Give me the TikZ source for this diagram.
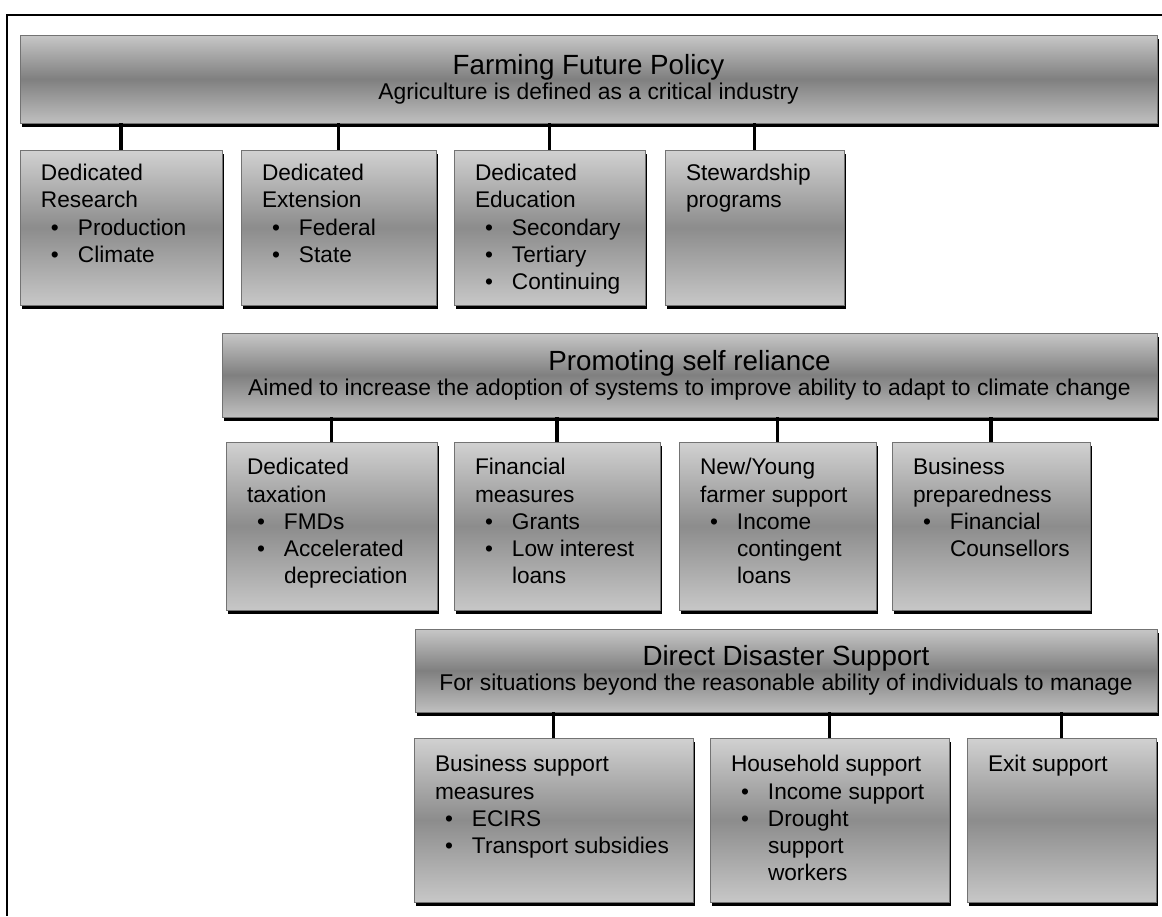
\documentclass[tikz,border=0pt]{standalone}
\usepackage{fontspec}
\setmainfont{Liberation Sans}
\usepackage{tikz}
\usetikzlibrary{positioning, shadows}

\newcommand{\bul}[1]{\makebox[0.74cm][l]{\hspace{0.2cm}\textbullet}#1}
\newcommand{\cnt}[1]{\hspace*{0.74cm}#1}
\newcommand{\headfont}{\fontsize{15.8pt}{14.2pt}\selectfont}

\begin{document}
\begin{tikzpicture}[
    banner/.style={draw=black!55, top color=black!22, bottom color=black!25, middle color=black!50,
      drop shadow={shadow xshift=1pt, shadow yshift=-2pt, fill=black, opacity=1},
      inner sep=0, align=center, font=\fontsize{13pt}{14.2pt}\selectfont},
    box/.style={draw=black!55, top color=black!18, bottom color=black!22, middle color=black!45,
      drop shadow={shadow xshift=1pt, shadow yshift=-2pt, fill=black, opacity=1},
      inner sep=0},
    boxtext/.style={inner sep=0, align=left, font=\fontsize{12.9pt}{15.4pt}\selectfont},
    link/.style={line width=2pt}
  ]
  \useasboundingbox (0,0) rectangle (23.24,-18.32);
  \draw[line width=1pt] (23.24,-0.30) -- (0.14,-0.30) -- (0.14,-18.32);

  % Farming Future Policy
  \node[banner, minimum width=22.74cm, minimum height=1.76cm] (farm) at (11.77,-1.58)
  {{\headfont Farming Future Policy}\\Agriculture is defined as a critical industry};
  \node[box, minimum width=4.04cm, minimum height=3.10cm] (res) at (2.42,-4.55) {};
  \node[box, minimum width=3.90cm, minimum height=3.10cm] (ext) at (6.77,-4.55) {};
  \node[box, minimum width=3.82cm, minimum height=3.10cm] (edu) at (10.99,-4.55) {};
  \node[box, minimum width=3.58cm, minimum height=3.10cm] (stew) at (15.09,-4.55) {};
  \node[boxtext, below right=0.29cm and 0.42cm of res.north west] (restxt)
  {Dedicated\\Research\\\bul{Production}\\\bul{Climate}};
  \node[boxtext, below right=0.29cm and 0.42cm of ext.north west] (exttxt)
  {Dedicated\\Extension\\\bul{Federal}\\\bul{State}};
  \node[boxtext, below right=0.29cm and 0.42cm of edu.north west] (edutxt)
  {Dedicated\\Education\\\bul{Secondary}\\\bul{Tertiary}\\\bul{Continuing}};
  \node[boxtext, below right=0.29cm and 0.42cm of stew.north west] (stewtxt)
  {Stewardship\\programs};
  \foreach \n in {res,ext,edu,stew}
    \draw[link] (\n.north) -- (\n.north |- farm.south);

  % Promoting self reliance
  \node[banner, minimum width=18.70cm, minimum height=1.68cm] (self) at (13.79,-7.50)
  {{\headfont Promoting self reliance}\\Aimed to increase the adoption of systems to improve ability to adapt to climate change};
  \node[box, minimum width=4.22cm, minimum height=3.36cm] (tax) at (6.63,-10.52) {};
  \node[box, minimum width=4.12cm, minimum height=3.36cm] (fin) at (11.14,-10.52) {};
  \node[box, minimum width=3.94cm, minimum height=3.36cm] (young) at (15.55,-10.52) {};
  \node[box, minimum width=3.96cm, minimum height=3.36cm] (prep) at (19.82,-10.52) {};
  \node[boxtext, below right=0.33cm and 0.42cm of tax.north west] (taxtxt)
  {Dedicated\\taxation\\\bul{FMDs}\\\bul{Accelerated}\\\cnt{depreciation}};
  \node[boxtext, below right=0.33cm and 0.42cm of fin.north west] (fintxt)
  {Financial\\measures\\\bul{Grants}\\\bul{Low interest}\\\cnt{loans}};
  \node[boxtext, below right=0.33cm and 0.42cm of young.north west] (youngtxt)
  {New/Young\\farmer support\\\bul{Income}\\\cnt{contingent}\\\cnt{loans}};
  \node[boxtext, below right=0.33cm and 0.42cm of prep.north west] (preptxt)
  {Business\\preparedness\\\bul{Financial}\\\cnt{Counsellors}};
  \foreach \n in {tax,fin,young,prep}
    \draw[link] (\n.north) -- (\n.north |- self.south);

  % Direct Disaster Support
  \node[banner, minimum width=14.84cm, minimum height=1.66cm] (dis) at (15.72,-13.41)
  {{\headfont Direct Disaster Support}\\For situations beyond the reasonable ability of individuals to manage};
  \node[box, minimum width=5.58cm, minimum height=3.28cm] (bus) at (11.07,-16.40) {};
  \node[box, minimum width=4.78cm, minimum height=3.28cm] (house) at (16.59,-16.40) {};
  \node[box, minimum width=3.78cm, minimum height=3.28cm] (exit) at (21.23,-16.40) {};
  \node[boxtext, below right=0.35cm and 0.42cm of bus.north west] (bustxt)
  {Business support\\measures\\\bul{ECIRS}\\\bul{Transport subsidies}};
  \node[boxtext, below right=0.35cm and 0.42cm of house.north west] (housetxt)
  {Household support\\\bul{Income support}\\\bul{Drought}\\\cnt{support}\\\cnt{workers}};
  \node[boxtext, below right=0.35cm and 0.42cm of exit.north west] (exittxt)
  {Exit support};
  \foreach \n in {bus,house,exit}
    \draw[link] (\n.north) -- (\n.north |- dis.south);
\end{tikzpicture}
\end{document}
